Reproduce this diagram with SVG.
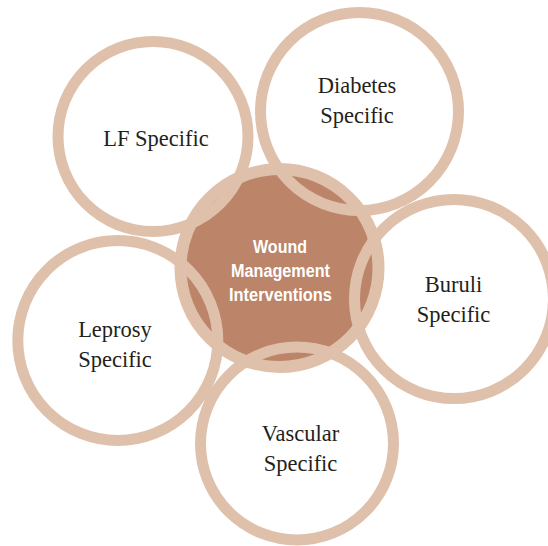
<svg xmlns="http://www.w3.org/2000/svg" width="548" height="546" viewBox="0 0 548 546">
<style>
.ring{fill:none;stroke:#DFC0AB;stroke-width:11}
.core{fill:#BC8469;stroke:#DFC0AB;stroke-width:12}
.lbl{font-family:"Liberation Serif","Times New Roman",serif;font-size:22.5px;fill:#231F20;text-anchor:middle}
.clbl{font-family:"Liberation Sans",Arial,sans-serif;font-weight:bold;font-size:17.5px;fill:#FFFFFF;text-anchor:middle}
</style>
<rect width="548" height="546" fill="#FFFFFF"/>
<g id="center">
<circle class="core" cx="279.5" cy="268" r="99"/>
</g>
<g id="connectors"></g>
<g id="lf">
<circle class="ring" cx="153" cy="136.5" r="95"/>
<text class="lbl" x="156" y="146">LF Specific</text>
</g>
<g id="diabetes">
<circle class="ring" cx="359.5" cy="111.5" r="99"/>
<text class="lbl" x="357" y="93">Diabetes</text>
<text class="lbl" x="357" y="123">Specific</text>
</g>
<g id="buruli">
<circle class="ring" cx="454" cy="299" r="99.5"/>
<text class="lbl" x="453.5" y="292">Buruli</text>
<text class="lbl" x="453.5" y="322">Specific</text>
</g>
<g id="vascular">
<circle class="ring" cx="297" cy="443.5" r="96.5"/>
<text class="lbl" x="300.5" y="441">Vascular</text>
<text class="lbl" x="300.5" y="471">Specific</text>
</g>
<g id="leprosy">
<circle class="ring" cx="117.8" cy="340.5" r="100"/>
<text class="lbl" x="115" y="337">Leprosy</text>
<text class="lbl" x="115" y="367">Specific</text>
</g>
<g id="center-label">
<text class="clbl" x="280" y="253" textLength="54" lengthAdjust="spacingAndGlyphs">Wound</text>
<text class="clbl" x="280.5" y="277" textLength="99" lengthAdjust="spacingAndGlyphs">Management</text>
<text class="clbl" x="280.5" y="301" textLength="103" lengthAdjust="spacingAndGlyphs">Interventions</text>
</g>
</svg>
